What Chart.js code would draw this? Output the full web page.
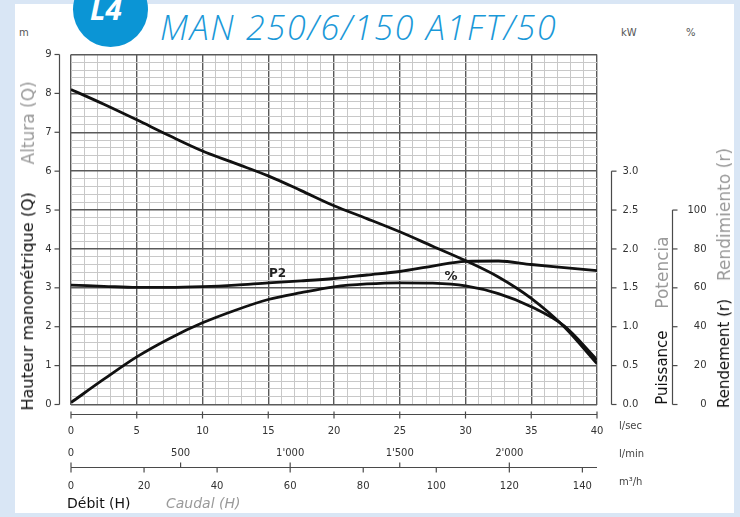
<!DOCTYPE html>
<html><head><meta charset="utf-8">
<script src="https://cdn.jsdelivr.net/npm/chart.js@4.4.1/dist/chart.umd.min.js"></script>
<style>
html,body{margin:0;padding:0;}
body{width:740px;height:517px;background:#d9e6f5;position:relative;overflow:hidden;font-family:"DejaVu Sans",sans-serif;}
#panel{position:absolute;left:15px;top:4px;width:719px;height:509px;background:#fff;}
#chart{position:absolute;left:0;top:0;}
.t{position:absolute;white-space:nowrap;line-height:1;}
.vert{position:absolute;writing-mode:vertical-rl;transform:rotate(180deg);white-space:nowrap;font-size:15px;line-height:18px;color:#111;}
.gray{color:#9a9a9a;font-size:17px;}
.logo{position:absolute;left:73px;top:-28px;width:75px;height:75px;border-radius:50%;background:#0b95d5;}
</style></head>
<body>
<div id="panel"></div>
<div class="logo"></div>
<div class="t" style="left:90px;top:-12px;font:italic bold 30px 'Open Sans',sans-serif;color:#fff;">L4</div>
<div class="t" style="left:160px;top:4px;font:italic 300 34px 'Open Sans',sans-serif;color:#1a98d8;letter-spacing:1.8px;">MAN 250/6/150 A1FT/50</div>
<div class="t" style="left:19px;top:28px;font-size:10px;color:#555;">m</div>
<div class="t" style="left:621px;top:28px;font-size:10px;color:#555;">kW</div>
<div class="t" style="left:686px;top:28px;font-size:10px;color:#555;">%</div>
<canvas id="chart" width="740" height="517"></canvas>
<div class="vert" style="left:19px;bottom:107px;font-size:16px;"><span>Hauteur manométrique (Q)</span><span class="gray" style="padding-inline-start:28px;">Altura (Q)</span></div>
<div class="vert" style="left:653px;bottom:112px;"><span>Puissance</span><span class="gray" style="padding-inline-start:22px;">Potencia</span></div>
<div class="vert" style="left:715px;bottom:109px;"><span>Rendement (r)</span><span class="gray" style="padding-inline-start:18px;">Rendimiento (r)</span></div>
<div class="t" style="left:619px;top:421px;font-size:10px;color:#444;">l/sec</div>
<div class="t" style="left:619px;top:449px;font-size:10px;color:#444;">l/min</div>
<div class="t" style="left:619px;top:477px;font-size:10px;color:#444;">m³/h</div>
<div class="t" style="left:67px;top:496px;font-size:14px;color:#111;">Débit (H)</div>
<div class="t" style="left:166px;top:496px;font-size:14px;font-style:italic;color:#9a9a9a;">Caudal (H)</div>
<script>
// ---- data ----
const flowLs   = [0, 2.5, 5, 7.5, 10, 12.5, 15, 17.5, 20, 22.5, 25, 27.5, 30, 32.5, 35, 37.5, 40];
const headM    = [8.10, 7.72, 7.32, 6.91, 6.52, 6.20, 5.88, 5.50, 5.11, 4.78, 4.44, 4.07, 3.70, 3.28, 2.73, 2.00, 1.05];
const powerKw  = [1.535, 1.52, 1.505, 1.505, 1.515, 1.535, 1.565, 1.59, 1.62, 1.665, 1.71, 1.78, 1.84, 1.845, 1.80, 1.76, 1.72];
const effPct   = [1, 13, 24.5, 34, 42, 48.5, 54, 57.5, 60.5, 62, 62.6, 62.4, 61, 57, 50.3, 40.4, 23];

// ---- tick labels ----
const headTicks = [0, 1, 2, 3, 4, 5, 6, 7, 8, 9];
const kwTicks = [0, 0.5, 1.0, 1.5, 2.0, 2.5, 3.0];
const pctTicks = [0, 20, 40, 60, 80, 100];
const lsTicks = [0, 5, 10, 15, 20, 25, 30, 35, 40];
const lminTicks = [0, 500, 1000, 1500, 2000];
const lminLabels = ['0', '500', "1'000", "1'500", "2'000"];
const m3hTicks = [0, 20, 40, 60, 80, 100, 120, 140];

const isMajor = (v) => Math.abs(v - Math.round(v)) < 1e-6;
const majorX = (v) => isMajor(v) && Math.round(v) % 5 === 0;

function seg(ctx, x1, y1, x2, y2) { ctx.beginPath(); ctx.moveTo(x1, y1); ctx.lineTo(x2, y2); ctx.stroke(); }

const axesPlugin = {
  id: 'customAxes',
  afterDraw(chart) {
    const { ctx, chartArea: ca, scales } = chart;
    const x = scales.x, y = scales.y, yk = scales.yKw, yp = scales.yPct;
    ctx.save();
    ctx.strokeStyle = '#4a4a4a';
    ctx.lineWidth = 1.2;
    ctx.fillStyle = '#333';
    ctx.font = '10px "DejaVu Sans"';
    // left head axis
    const lx = Math.round(ca.left - 12) + 0.5;
    seg(ctx, lx, y.getPixelForValue(0), lx, y.getPixelForValue(9));
    ctx.textAlign = 'right'; ctx.textBaseline = 'middle';
    headTicks.forEach(v => {
      const py = y.getPixelForValue(v);
      seg(ctx, lx - 5, py, lx, py);
      ctx.fillText(String(v), lx - 8, py);
    });
    // kW axis
    const kx = Math.round(ca.right + 14) + 0.5;
    seg(ctx, kx, yk.getPixelForValue(0), kx, yk.getPixelForValue(3));
    ctx.textAlign = 'left';
    kwTicks.forEach(v => {
      const py = yk.getPixelForValue(v);
      seg(ctx, kx, py, kx + 5, py);
      ctx.fillText(v.toFixed(1), kx + 11, py);
    });
    // % axis
    const px = Math.round(ca.right + 75) + 0.5;
    seg(ctx, px, yp.getPixelForValue(0), px, yp.getPixelForValue(100));
    ctx.textAlign = 'right';
    pctTicks.forEach(v => {
      const py = yp.getPixelForValue(v);
      seg(ctx, px, py, px + 5, py);
      ctx.fillText(String(v), px + 34, py);
    });
    // l/sec axis
    const by = Math.round(ca.bottom + 9) + 0.5;
    seg(ctx, x.getPixelForValue(0), by, x.getPixelForValue(40), by);
    ctx.textAlign = 'center';
    lsTicks.forEach(v => {
      const pxl = x.getPixelForValue(v);
      seg(ctx, pxl, by - 3, pxl, by + 4);
      ctx.fillText(String(v), pxl, by + 17);
    });
    // l/min + m3/h axis
    const my = Math.round(ca.bottom + 62) + 0.5;
    seg(ctx, x.getPixelForValue(0), my, x.getPixelForValue(40), my);
    lminTicks.forEach((v, i) => {
      const pxl = x.getPixelForValue(v / 60);
      seg(ctx, pxl, my - 5, pxl, my);
      ctx.fillText(lminLabels[i], pxl, my - 14);
    });
    m3hTicks.forEach(v => {
      const pxl = x.getPixelForValue(v / 3.6);
      seg(ctx, pxl, my, pxl, my + 5);
      ctx.fillText(String(v), pxl, my + 19);
    });
    // curve labels
    ctx.font = 'bold 12px "DejaVu Sans"';
    ctx.fillStyle = '#222';
    ctx.fillText('P2', x.getPixelForValue(15.7), yk.getPixelForValue(1.68));
    ctx.font = 'bold 13px "DejaVu Sans"';
    ctx.fillText('%', x.getPixelForValue(28.9), yp.getPixelForValue(66));
    ctx.restore();
  }
};

const lineStyle = { borderColor: '#111', borderWidth: 2.8, pointRadius: 0, cubicInterpolationMode: 'monotone', fill: false };

new Chart(document.getElementById('chart'), {
  type: 'line',
  data: {
    datasets: [
      Object.assign({ label: 'H', yAxisID: 'y', data: flowLs.map((f, i) => ({ x: f, y: headM[i] })) }, lineStyle),
      Object.assign({ label: 'P2', yAxisID: 'yKw', data: flowLs.map((f, i) => ({ x: f, y: powerKw[i] })) }, lineStyle),
      Object.assign({ label: '%', yAxisID: 'yPct', data: flowLs.map((f, i) => ({ x: f, y: effPct[i] })) }, lineStyle)
    ]
  },
  options: {
    responsive: false, animation: false, devicePixelRatio: 1,
    layout: { padding: { left: 71, right: 143, top: 54.5, bottom: 112.5 } },
    plugins: { legend: { display: false }, tooltip: { enabled: false } },
    scales: {
      x: {
        type: 'linear', min: 0, max: 40,
        ticks: { display: false, stepSize: 1 },
        grid: { drawTicks: false, color: c => majorX(c.tick.value) ? '#5a5a5a' : '#c8c8c8', lineWidth: c => majorX(c.tick.value) ? 1.4 : 1 },
        border: { display: false }
      },
      y: {
        type: 'linear', min: 0, max: 9,
        ticks: { display: false, stepSize: 0.2 },
        grid: { drawTicks: false, color: c => isMajor(c.tick.value) ? '#5a5a5a' : '#c8c8c8', lineWidth: c => isMajor(c.tick.value) ? 1.4 : 1 },
        border: { display: false }
      },
      yKw: { type: 'linear', display: false, min: 0, max: 4.5 },
      yPct: { type: 'linear', display: false, min: 0, max: 180 }
    }
  },
  plugins: [axesPlugin]
});
</script>
</body></html>
